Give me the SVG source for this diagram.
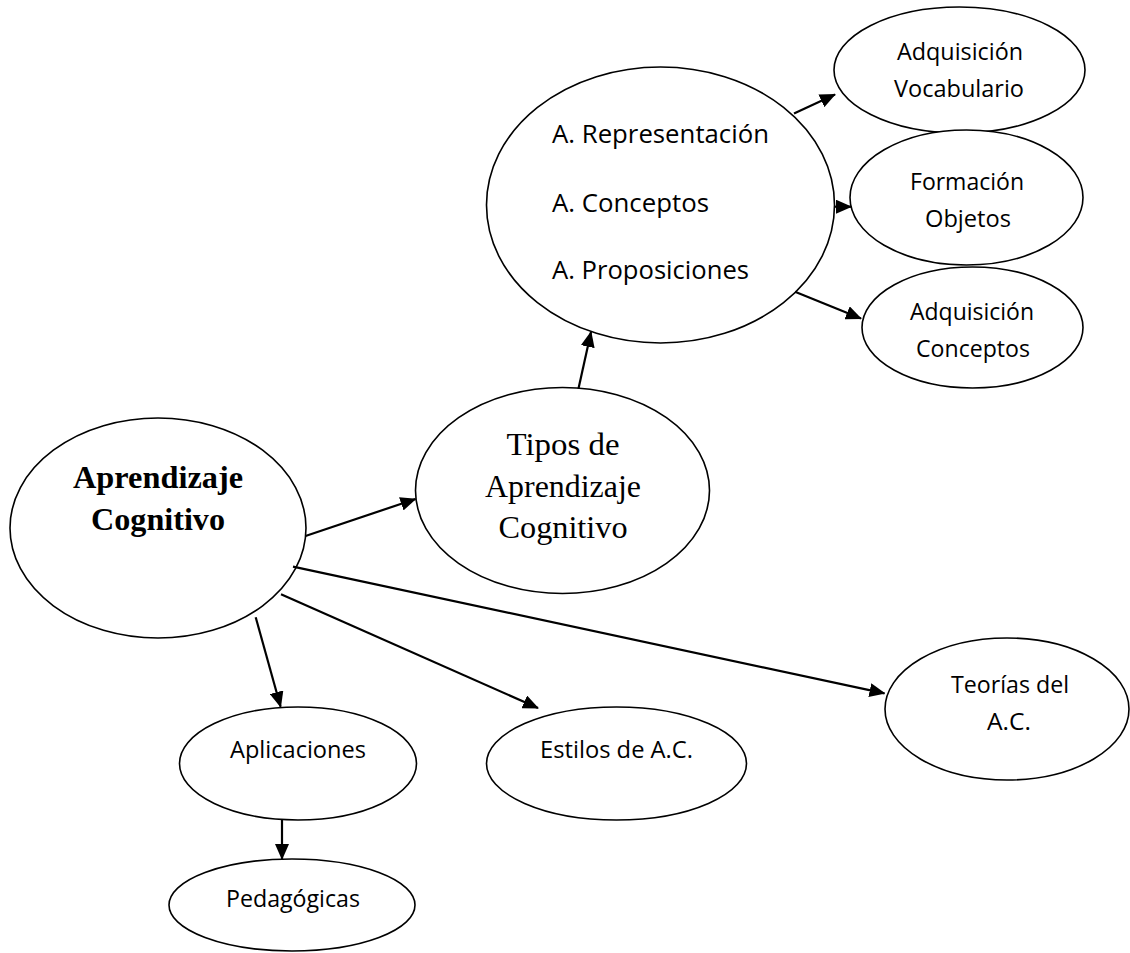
<svg xmlns="http://www.w3.org/2000/svg" width="1130" height="953" viewBox="0 0 1130 953">
<style>
.n{fill:#fff;stroke:#000;stroke-width:1.6}
.c{fill:none;stroke:#000;stroke-width:2.2;marker-end:url(#ah)}
.s{font-family:"Open Sans","Liberation Sans",sans-serif;font-size:23.5px;fill:#000;text-anchor:middle}
.m{font-family:"Open Sans","Liberation Sans",sans-serif;font-size:26px;fill:#000}
.t{font-family:"Liberation Serif","Times New Roman",serif;font-size:31.5px;fill:#000;text-anchor:middle}
.b{font-family:"Liberation Serif","Times New Roman",serif;font-size:32px;font-weight:bold;fill:#000;text-anchor:middle}
</style>
<defs>
<marker id="ah" markerUnits="userSpaceOnUse" markerWidth="16" markerHeight="14" refX="15" refY="7" orient="auto">
<path d="M0,0 L16,7 L0,14 Z" fill="#000"/>
</marker>
</defs>
<rect width="1130" height="953" fill="#fff"/>
<g id="n-aprendizaje">
<ellipse class="n" cx="158" cy="528" rx="148" ry="110"/>
<text class="b" x="158" y="488" textLength="170" lengthAdjust="spacingAndGlyphs">Aprendizaje</text>
<text class="b" x="158" y="530" textLength="134" lengthAdjust="spacingAndGlyphs">Cognitivo</text>
</g>
<g id="n-tipos">
<ellipse class="n" cx="562.5" cy="490.5" rx="147" ry="103"/>
<text class="t" x="563" y="455" textLength="113" lengthAdjust="spacingAndGlyphs">Tipos de</text>
<text class="t" x="563" y="497" textLength="156" lengthAdjust="spacingAndGlyphs">Aprendizaje</text>
<text class="t" x="563" y="538" textLength="129" lengthAdjust="spacingAndGlyphs">Cognitivo</text>
</g>
<g id="n-tiposlist">
<ellipse class="n" cx="660.5" cy="205" rx="174" ry="138"/>
<text class="m" x="552" y="143" textLength="217" lengthAdjust="spacingAndGlyphs">A. Representación</text>
<text class="m" x="552" y="211.5" textLength="157" lengthAdjust="spacingAndGlyphs">A. Conceptos</text>
<text class="m" x="552" y="278.5" textLength="197" lengthAdjust="spacingAndGlyphs">A. Proposiciones</text>
</g>
<g id="n-vocab">
<ellipse class="n" cx="959.5" cy="70" rx="125.5" ry="63"/>
<text class="s" x="960" y="60" textLength="126" lengthAdjust="spacingAndGlyphs">Adquisición</text>
<text class="s" x="959" y="97" textLength="130" lengthAdjust="spacingAndGlyphs">Vocabulario</text>
</g>
<g id="n-objetos">
<ellipse class="n" cx="966.5" cy="197.5" rx="116.5" ry="67.5"/>
<text class="s" x="967" y="190" textLength="114" lengthAdjust="spacingAndGlyphs">Formación</text>
<text class="s" x="968" y="227" textLength="86" lengthAdjust="spacingAndGlyphs">Objetos</text>
</g>
<g id="n-conceptos">
<ellipse class="n" cx="972.5" cy="327.5" rx="110.5" ry="60.5"/>
<text class="s" x="972" y="320" textLength="124" lengthAdjust="spacingAndGlyphs">Adquisición</text>
<text class="s" x="973" y="357" textLength="114" lengthAdjust="spacingAndGlyphs">Conceptos</text>
</g>
<g id="n-teorias">
<ellipse class="n" cx="1007" cy="709" rx="122" ry="71"/>
<text class="s" x="1010" y="693" textLength="118" lengthAdjust="spacingAndGlyphs">Teorías del</text>
<text class="s" x="1009" y="730" textLength="44" lengthAdjust="spacingAndGlyphs">A.C.</text>
</g>
<g id="n-aplicaciones">
<ellipse class="n" cx="298" cy="763.5" rx="118.5" ry="56.5"/>
<text class="s" x="298" y="758" textLength="136" lengthAdjust="spacingAndGlyphs">Aplicaciones</text>
</g>
<g id="n-estilos">
<ellipse class="n" cx="616.5" cy="763.5" rx="130" ry="56.5"/>
<text class="s" x="616.5" y="758" textLength="153" lengthAdjust="spacingAndGlyphs">Estilos de A.C.</text>
</g>
<g id="n-pedagogicas">
<ellipse class="n" cx="292" cy="905" rx="123" ry="46"/>
<text class="s" x="293" y="907" textLength="134" lengthAdjust="spacingAndGlyphs">Pedagógicas</text>
</g>
<g id="connectors">
<line class="c" x1="305.5" y1="536" x2="415.5" y2="499"/>
<line class="c" x1="578.5" y1="388.5" x2="591" y2="332"/>
<line class="c" x1="794" y1="113.5" x2="835" y2="94.5"/>
<line class="c" x1="834" y1="206.7" x2="851" y2="206.7"/>
<line class="c" x1="795" y1="291.7" x2="861" y2="318.5"/>
<line class="c" x1="293" y1="566.7" x2="884.5" y2="693.3"/>
<line class="c" x1="281" y1="594.3" x2="538" y2="708"/>
<line class="c" x1="255.7" y1="617.3" x2="280.6" y2="706.7"/>
<line class="c" x1="282" y1="820" x2="282" y2="859"/>
</g>
</svg>
